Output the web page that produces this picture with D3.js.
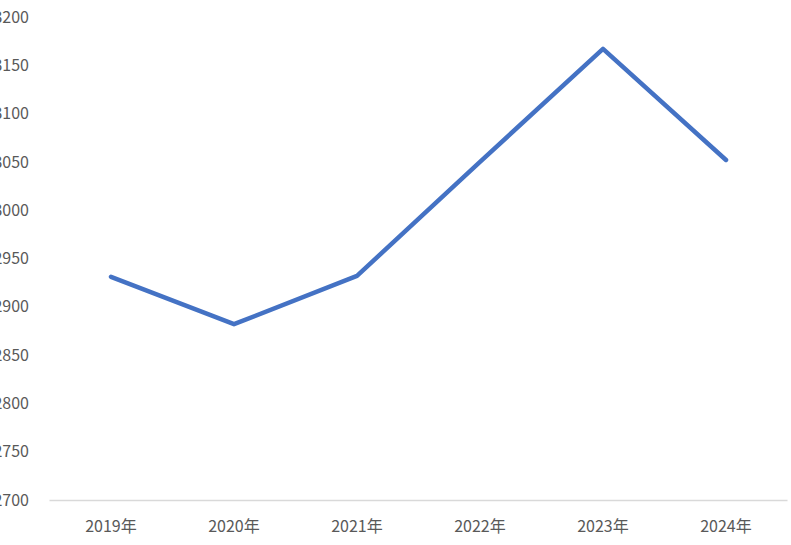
<!DOCTYPE html>
<html>
<head>
<meta charset="utf-8">
<script src="https://cdn.jsdelivr.net/npm/d3@7"></script>
<style>
  html, body { margin: 0; padding: 0; background: #ffffff; }
  svg { display: block; }
</style>
</head>
<body>
<svg id="chart" width="791" height="545"></svg>
<script>
const categories = ["2019年", "2020年", "2021年", "2022年", "2023年", "2024年"];
const values = [2931, 2882, 2932, 3050, 3167, 3052];
const yTicks = [2700, 2750, 2800, 2850, 2900, 2950, 3000, 3050, 3100, 3150, 3200];

const svg = d3.select("#chart");
const font = "'Microsoft YaHei', 'Noto Sans CJK SC', 'Noto Sans', sans-serif";

const x = d3.scaleBand().domain(categories).range([49.5, 787.5]);
const y = d3.scaleLinear().domain([2700, 3200]).range([500, 17]);

// y axis labels
const yAxis = d3.axisLeft(y).tickValues(yTicks).tickSize(0).tickPadding(0).tickFormat(d3.format("d"));
const gy = svg.append("g").attr("transform", "translate(29,0)").call(yAxis);
gy.select(".domain").remove();
gy.selectAll("text")
  .attr("fill", "#595959")
  .style("font-family", font)
  .style("font-size", "16px");

// x axis baseline
const xAxis = d3.axisBottom(x).tickSize(0).tickPadding(0);
const gx = svg.append("g").attr("transform", "translate(0,500.5)").call(xAxis);
gx.select(".domain").attr("stroke", "#d9d9d9").attr("stroke-width", 1.3).attr("d", "M49.5,0H787.5");
gx.selectAll("text")
  .attr("fill", "#595959")
  .attr("dy", null)
  .attr("y", 31)
  .style("font-family", font)
  .style("font-size", "16px");

// line
const line = d3.line()
  .x((d, i) => x(categories[i]) + x.bandwidth() / 2)
  .y(d => y(d));

svg.append("path")
  .datum(values)
  .attr("fill", "none")
  .attr("stroke", "#4472C4")
  .attr("stroke-width", 4.5)
  .attr("stroke-linejoin", "round")
  .attr("stroke-linecap", "round")
  .attr("d", line);
</script>
</body>
</html>
